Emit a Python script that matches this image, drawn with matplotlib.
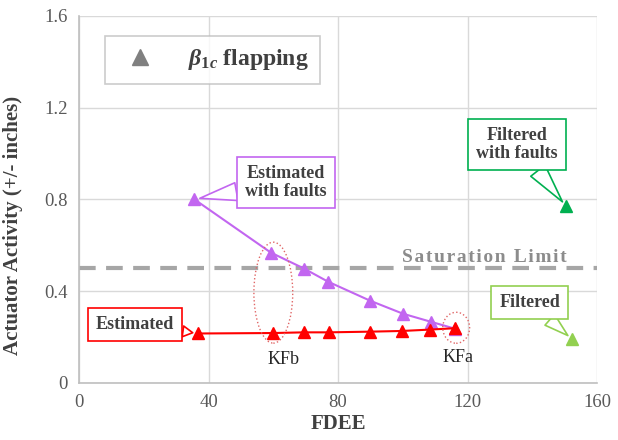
import matplotlib
matplotlib.use("Agg")
import matplotlib.pyplot as plt
from matplotlib.patches import Ellipse
from matplotlib.lines import Line2D

plt.rcParams['font.family'] = ['Liberation Serif', 'DejaVu Serif']
plt.rcParams['mathtext.fontset'] = 'custom'
plt.rcParams['mathtext.it'] = 'Liberation Serif:bold:italic'
plt.rcParams['mathtext.rm'] = 'Liberation Serif:bold'

# data
fdee_faults = [35.6, 59.2, 69.5, 76.9, 89.9, 100.1, 108.7, 116.1]
act_faults = [0.80, 0.568, 0.498, 0.441, 0.358, 0.301, 0.266, 0.236]
fdee_est = [36.8, 60.0, 69.5, 77.2, 89.9, 99.8, 108.4, 116.1]
act_est = [0.215, 0.217, 0.220, 0.220, 0.223, 0.226, 0.232, 0.238]
filt_faults = (150.4, 0.77)
filt = (152.3, 0.19)
sat_limit = 0.5
xticks = [0, 40, 80, 120, 160]
yticks = [0, 0.4, 0.8, 1.2, 1.6]
ytick_labels = ['0', '0.4', '0.8', '1.2', '1.6']

purple = '#C266F0'
red = '#FF0000'
dgreen = '#00B050'
lgreen = '#92D050'
txt = '#404040'

fig = plt.figure(figsize=(6.18, 4.4), dpi=100)
ax = fig.add_axes([0.128, 0.130, 0.838, 0.834])

ax.axhline(sat_limit, color='#A6A6A6', lw=3, ls=(0, (4, 2.5)), zorder=2)
ax.plot(fdee_faults, act_faults, color=purple, lw=1.5, marker='^', ms=9, zorder=4)
ax.plot(fdee_est, act_est, color=red, lw=1.5, marker='^', ms=9, zorder=4)
ax.plot(*filt_faults, color=dgreen, marker='^', ms=9, zorder=4)
ax.plot(*filt, color=lgreen, marker='^', ms=9, zorder=4)

ax.set_xlim(0, 160)
ax.set_ylim(0, 1.6)
ax.set_xticks(xticks)
ax.set_yticks(yticks)
ax.set_yticklabels(ytick_labels)
ax.grid(True, color='#D9D9D9', lw=1)
ax.set_axisbelow(True)
for s in ['top', 'right']:
    ax.spines[s].set_visible(False)
for s in ['left', 'bottom']:
    ax.spines[s].set_color('#BFBFBF')
    ax.spines[s].set_linewidth(1.2)
ax.tick_params(length=0, labelsize=13.5, labelcolor='#595959', pad=8)
ax.set_xlabel('FDEE', fontsize=15, fontweight='bold', color=txt, labelpad=2)
ax.set_ylabel('Actuator Activity (+/- inches)', fontsize=15, fontweight='bold', color=txt)
ax.yaxis.set_label_coords(-0.108, 0.43)

# saturation label, letter-spaced
sat_txt = '\u200a'.join('Saturation Limit')
ax.text(150.5, 0.548, sat_txt, ha='right', va='center', fontsize=14,
        fontweight='bold', color='#8C8C8C')

# dotted ellipses
ax.add_patch(Ellipse((60, 0.393), 12, 0.44, fill=False, ec='#E06666', ls=':', lw=1, zorder=5))
ax.add_patch(Ellipse((116.5, 0.24), 8.3, 0.135, fill=False, ec='#E06666', ls=':', lw=1, zorder=5))
ax.text(63, 0.10, 'KFb', ha='center', va='center', fontsize=13, color='#262626')
ax.text(117, 0.11, 'KFa', ha='center', va='center', fontsize=13, color='#262626')

# callouts
def callout(text, xy, xytext, color, w=1.0):
    ax.annotate(text, xy=xy, xytext=xytext, ha='center', va='center', fontsize=13,
                fontweight='bold', color=txt, linespacing=1.1, zorder=6,
                bbox=dict(boxstyle='square,pad=0.45', fc='white', ec=color, lw=1.2),
                arrowprops=dict(arrowstyle='wedge,tail_width=%s' % w, fc='white',
                                ec=color, lw=1.2, shrinkA=0, shrinkB=4))

callout('Estimated\nwith faults', (fdee_faults[0], act_faults[0]), (63.9, 0.873), purple)
callout('Estimated', (fdee_est[0], act_est[0]), (17.3, 0.253), red, 0.6)
callout('Filtered\nwith faults', filt_faults, (135.3, 1.04), dgreen)
callout('Filtered', filt, (139.3, 0.35), lgreen, 0.8)

# legend
h = Line2D([], [], ls='none', marker='^', ms=11, color='#808080')
leg = ax.legend([h], [r'$\beta_{\mathit{1c}}$ flapping'], loc='upper left',
                bbox_to_anchor=(0.05, 0.946), fancybox=False, edgecolor='#BFBFBF',
                fontsize=17, handletextpad=1.0, borderpad=0.5, borderaxespad=0)
leg.get_frame().set_linewidth(1.2)
for t in leg.get_texts():
    t.set_fontweight('bold')
    t.set_color(txt)

fig.savefig('out.png', dpi=100)
